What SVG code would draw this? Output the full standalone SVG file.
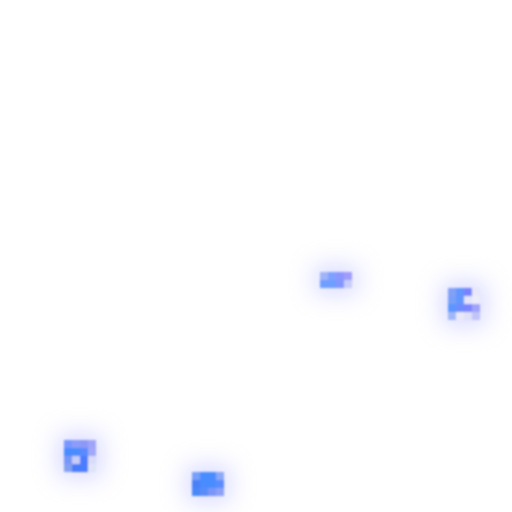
<svg xmlns="http://www.w3.org/2000/svg" width="512" height="512" viewBox="0 0 512 512">
<defs>
<filter id="glow" x="-150%" y="-150%" width="400%" height="400%"><feGaussianBlur stdDeviation="12"/></filter>
<filter id="soft" x="-20%" y="-20%" width="140%" height="140%"><feGaussianBlur stdDeviation="0.8"/></filter>
<style>.g{fill:#b0b4ff;opacity:0.5;filter:url(#glow)} .c{filter:url(#soft)}</style>
</defs>
<rect width="512" height="512" fill="#ffffff"/>
<g id="blob1">
<rect class="g" x="314" y="266" width="44" height="28"/>
<g class="c">
<rect x="320" y="272" width="8" height="8" fill="#a0b4f8"/>
<rect x="328" y="272" width="8" height="8" fill="#80a0ff"/>
<rect x="336" y="272" width="8" height="8" fill="#8c96ff"/>
<rect x="344" y="272" width="8" height="8" fill="#a09cfa"/>
<rect x="320" y="280" width="8" height="8" fill="#6e9eff"/>
<rect x="328" y="280" width="8" height="8" fill="#6e9eff"/>
<rect x="336" y="280" width="8" height="8" fill="#8296ff"/>
<rect x="344" y="280" width="8" height="8" fill="#c8ccf8"/>
</g>
</g>
<g id="blob2">
<rect class="g" x="442" y="282" width="44" height="44"/>
<g class="c">
<rect x="448" y="288" width="8" height="8" fill="#82a0f6"/>
<rect x="456" y="288" width="8" height="8" fill="#6496ff"/>
<rect x="464" y="288" width="8" height="8" fill="#7882ff"/>
<rect x="472" y="288" width="8" height="8" fill="#e8e8fa"/>
<rect x="448" y="296" width="8" height="8" fill="#78a0f8"/>
<rect x="456" y="296" width="8" height="8" fill="#6496ff"/>
<rect x="464" y="296" width="8" height="8" fill="#e4e4fa"/>
<rect x="472" y="296" width="8" height="8" fill="#ececfa"/>
<rect x="448" y="304" width="8" height="8" fill="#5a96ff"/>
<rect x="456" y="304" width="8" height="8" fill="#6e8cff"/>
<rect x="464" y="304" width="8" height="8" fill="#7c86ff"/>
<rect x="472" y="304" width="8" height="8" fill="#a0a4f8"/>
<rect x="448" y="312" width="8" height="8" fill="#a0b8f8"/>
<rect x="456" y="312" width="8" height="8" fill="#e8e8f8"/>
<rect x="464" y="312" width="8" height="8" fill="#e0e0f8"/>
<rect x="472" y="312" width="8" height="8" fill="#c0c4f8"/>
</g>
</g>
<g id="blob3">
<rect class="g" x="58" y="434" width="44" height="44"/>
<g class="c">
<rect x="64" y="440" width="8" height="8" fill="#7896ff"/>
<rect x="72" y="440" width="8" height="8" fill="#8c9cf8"/>
<rect x="80" y="440" width="8" height="8" fill="#8c98f8"/>
<rect x="88" y="440" width="8" height="8" fill="#a0a4f8"/>
<rect x="64" y="448" width="8" height="8" fill="#4a8cff"/>
<rect x="72" y="448" width="8" height="8" fill="#4a8cff"/>
<rect x="80" y="448" width="8" height="8" fill="#5a8aff"/>
<rect x="88" y="448" width="8" height="8" fill="#a0a8f8"/>
<rect x="64" y="456" width="8" height="8" fill="#7896f8"/>
<rect x="72" y="456" width="8" height="8" fill="#c8ccf8"/>
<rect x="80" y="456" width="8" height="8" fill="#4a7cff"/>
<rect x="88" y="456" width="8" height="8" fill="#d8dcf8"/>
<rect x="64" y="464" width="8" height="8" fill="#84a0f0"/>
<rect x="72" y="464" width="8" height="8" fill="#4a7cf8"/>
<rect x="80" y="464" width="8" height="8" fill="#4a7cff"/>
<rect x="88" y="464" width="8" height="8" fill="#e0e4f8"/>
</g>
</g>
<g id="blob4">
<rect class="g" x="186" y="466" width="44" height="36"/>
<g class="c">
<rect x="192" y="472" width="8" height="8" fill="#78a0f8"/>
<rect x="200" y="472" width="8" height="8" fill="#4a8cff"/>
<rect x="208" y="472" width="8" height="8" fill="#4a8cff"/>
<rect x="216" y="472" width="8" height="8" fill="#8ca8f8"/>
<rect x="192" y="480" width="8" height="8" fill="#4a80f8"/>
<rect x="200" y="480" width="8" height="8" fill="#4a8cff"/>
<rect x="208" y="480" width="8" height="8" fill="#4a8cff"/>
<rect x="216" y="480" width="8" height="8" fill="#5a8cff"/>
<rect x="192" y="488" width="8" height="8" fill="#4a88f8"/>
<rect x="200" y="488" width="8" height="8" fill="#5a8cf8"/>
<rect x="208" y="488" width="8" height="8" fill="#7896f8"/>
<rect x="216" y="488" width="8" height="8" fill="#8ca0f8"/>
</g>
</g>
</svg>
